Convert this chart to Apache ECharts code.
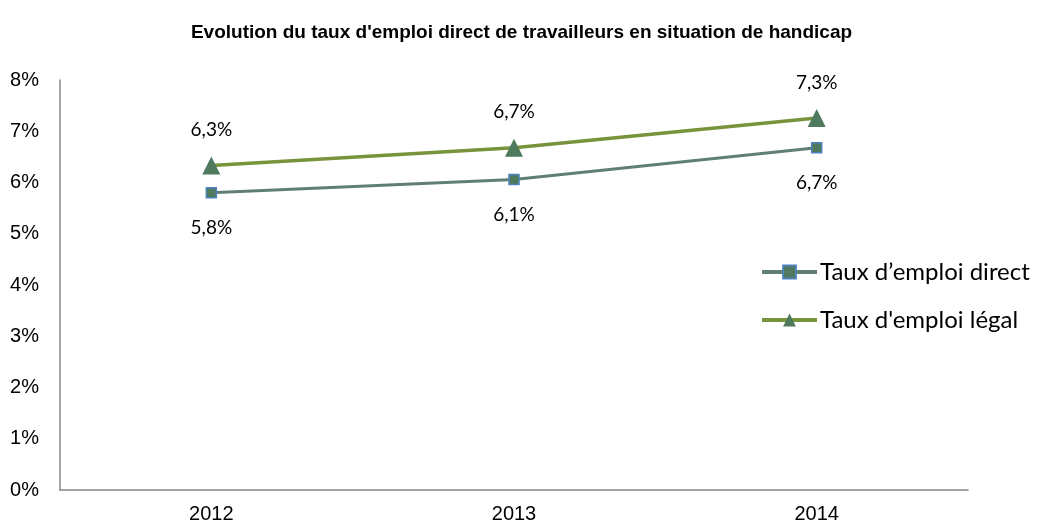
<!DOCTYPE html>
<html><head><meta charset="utf-8">
<script src="https://cdn.jsdelivr.net/npm/echarts@6/dist/echarts.min.js"></script>
<style>html,body{margin:0;padding:0;background:#fff}#c{width:1043px;height:522px}</style>
</head><body><div id="c"></div>
<script>
const categories = ['2012', '2013', '2014'];
const directRate = [5.8, 6.06, 6.68];
const legalRate = [6.33, 6.68, 7.26];
const seriesNames = ['Taux d\u2019emploi direct', "Taux d'emploi légal"];
const titleText = "Evolution du taux d'emploi direct de travailleurs en situation de handicap";

const fmt = v => v.toFixed(1).replace('.', ',') + '%';
const chart = echarts.init(document.getElementById('c'));
chart.setOption({
  animation: false,
  title: { text: titleText, left: 'center', top: 18,
    textStyle: { fontFamily: 'Liberation Sans', fontWeight: 'bold', fontSize: 19, color: '#000' } },
  grid: { left: 60, right: 75, top: 80, bottom: 32, outerBoundsMode: 'none', containLabel: false },
  legend: {
    orient: 'vertical', left: 760, top: 260, padding: 0, itemWidth: 55, itemHeight: 16, itemGap: 24,
    lineStyle: { width: 4 },
    textStyle: { fontFamily: 'Lato', fontSize: 24, color: '#000', padding: [0, 0, 0, -2] },
    data: seriesNames
  },
  xAxis: {
    type: 'category', data: categories, boundaryGap: true,
    axisLine: { lineStyle: { color: '#868686', width: 1.5 } },
    axisTick: { show: false },
    axisLabel: { fontFamily: 'Liberation Sans', fontSize: 20, color: '#000', margin: 14 }
  },
  yAxis: {
    type: 'value', min: 0, max: 8, interval: 1,
    axisLine: { show: true, lineStyle: { color: '#868686', width: 1.5 } },
    axisTick: { show: false },
    splitLine: { show: false },
    axisLabel: { fontFamily: 'Liberation Sans', fontSize: 20, color: '#000', margin: 21,
      formatter: v => v + '%' }
  },
  series: [
    { name: seriesNames[0], type: 'line', data: directRate,
      symbol: 'rect', symbolSize: 10,
      lineStyle: { color: '#5f7f76', width: 3 },
      itemStyle: { color: '#4f7a5e', borderColor: '#4f81bd', borderWidth: 1.5 },
      label: { show: true, position: 'bottom', distance: 20, formatter: p => fmt(p.value),
        fontFamily: 'Lato', fontSize: 19, color: '#000' } },
    { name: seriesNames[1], type: 'line', data: legalRate,
      symbol: 'triangle', symbolSize: 18,
      lineStyle: { color: '#77933c', width: 3.5 },
      itemStyle: { color: '#4f7a5e' },
      label: { show: true, position: 'top', distance: 17, formatter: p => fmt(p.value),
        fontFamily: 'Lato', fontSize: 19, color: '#000' } }
  ]
});
</script></body></html>
